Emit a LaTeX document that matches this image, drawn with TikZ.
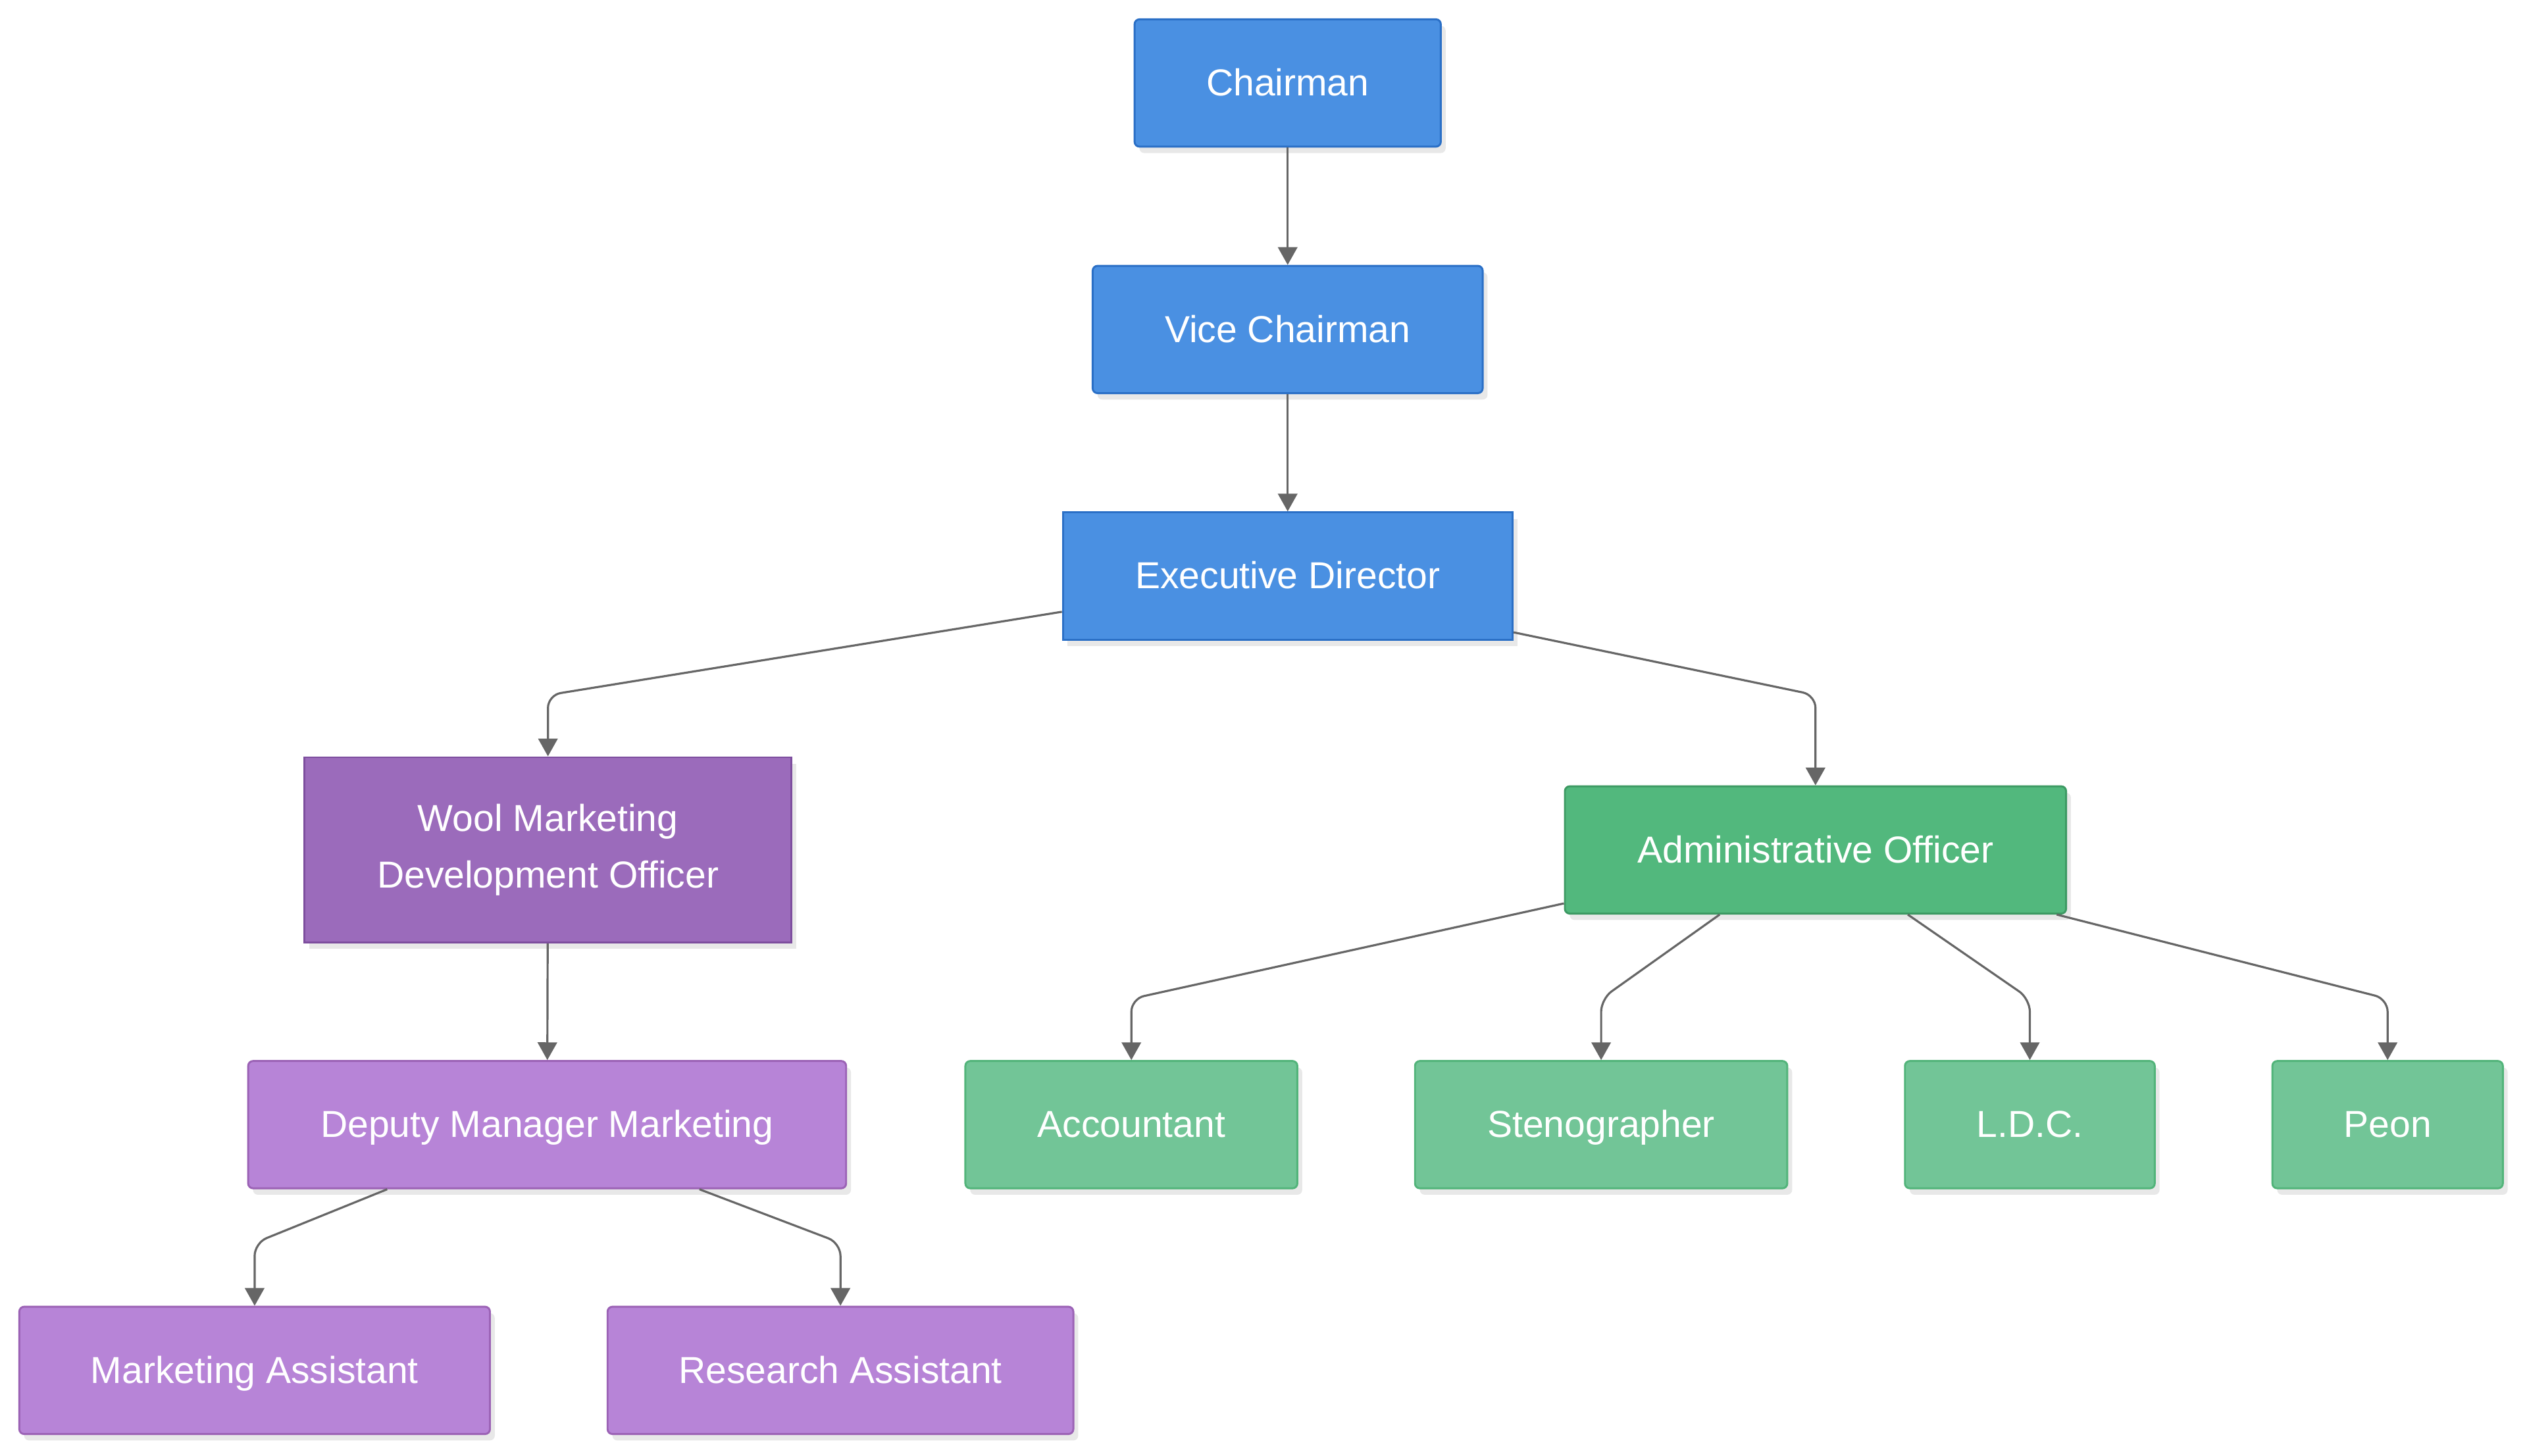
\documentclass[tikz,border=0pt]{standalone}
\usepackage{fontspec}
\setmainfont{Liberation Sans}
\usetikzlibrary{arrows.meta,shadows}

\definecolor{topFill}{HTML}{4A90E2}
\definecolor{topLine}{HTML}{2A6FC6}
\definecolor{mktFill}{HTML}{9B6BBB}
\definecolor{mktLine}{HTML}{7D4E9E}
\definecolor{mktLight}{HTML}{B784D7}
\definecolor{mktLightLine}{HTML}{9B62B5}
\definecolor{admFill}{HTML}{52B87D}
\definecolor{admLine}{HTML}{3D9A63}
\definecolor{admLight}{HTML}{72C597}
\definecolor{admLightLine}{HTML}{52B47A}
\definecolor{edgeGray}{HTML}{666666}

\begin{document}
\begin{tikzpicture}[x=1pt,y=-1pt,
	box/.style={draw, line width=1.2pt, rounded corners=3pt, text=white,
		font=\fontsize{23.3}{35}\selectfont, minimum height=79pt, inner sep=0pt,
		text height=18.7pt, text depth=2.9pt,
		align=center, drop shadow={opacity=0.18, shadow xshift=3pt, shadow yshift=-4pt}},
	topbox/.style={box, fill=topFill, draw=topLine},
	mktbox/.style={box, fill=mktLight, draw=mktLightLine},
	admbox/.style={box, fill=admLight, draw=admLightLine},
	edge/.style={draw=edgeGray, line width=1.3pt, rounded corners=8pt,
		-{Triangle[length=11pt,width=12pt]}}]
\useasboundingbox (0,0) rectangle (1568,903.6);

% top of the chart
\node[topbox, minimum width=190pt] (ch) at (799,51.5) {Chairman};
\node[topbox, minimum width=242pt] (vc) at (799,204.5) {Vice Chairman};
\node[topbox, sharp corners, minimum width=279pt] (ed) at (799,357.5) {Executive Director};

% marketing side
\node[box, sharp corners, fill=mktFill, draw=mktLine, text height=, text depth=, minimum width=302pt, minimum height=115pt] (wmdo) at (340,527.5) {Wool Marketing\\Development Officer};
\node[mktbox, minimum width=371pt] (dmm) at (339.5,698) {Deputy Manager Marketing};
\node[mktbox, minimum width=292pt] (ma) at (158,850.5) {Marketing Assistant};
\node[mktbox, minimum width=289pt] (ra) at (521.5,850.5) {Research Assistant};

% administration side
\node[box, fill=admFill, draw=admLine, minimum width=311pt] (ao) at (1126.5,527.5) {Administrative Officer};
\foreach \name/\x/\w/\lbl in {acc/702/206/Accountant, steno/993.5/231/Stenographer, ldc/1259.5/155/L.D.C., peon/1481.5/143/Peon} {
	\node[admbox, minimum width=\w pt] (\name) at (\x,698) {\lbl};
}

\draw[edge] (ch) -- (vc);
\draw[edge] (vc) -- (ed);
\draw[edge] (ed.189.2) -- ([yshift=38pt]wmdo.north) -- (wmdo.north);
\draw[edge] (ed.346.9) -- ([yshift=56pt]ao.north) -- (ao.north);
\draw[edge] (wmdo) -- (dmm);
\draw[edge] (dmm.202.5) -- ([yshift=39pt]ma.north) -- (ma.north);
\draw[edge] (dmm.337.5) -- ([yshift=39pt]ra.north) -- (ra.north);

\foreach \name/\a in {acc/192.5, steno/214.5, ldc/325.5, peon/345.6} {
	\draw[edge] (ao.\a) -- ([yshift=38pt]\name.north) -- (\name.north);
}
\end{tikzpicture}
\end{document}
